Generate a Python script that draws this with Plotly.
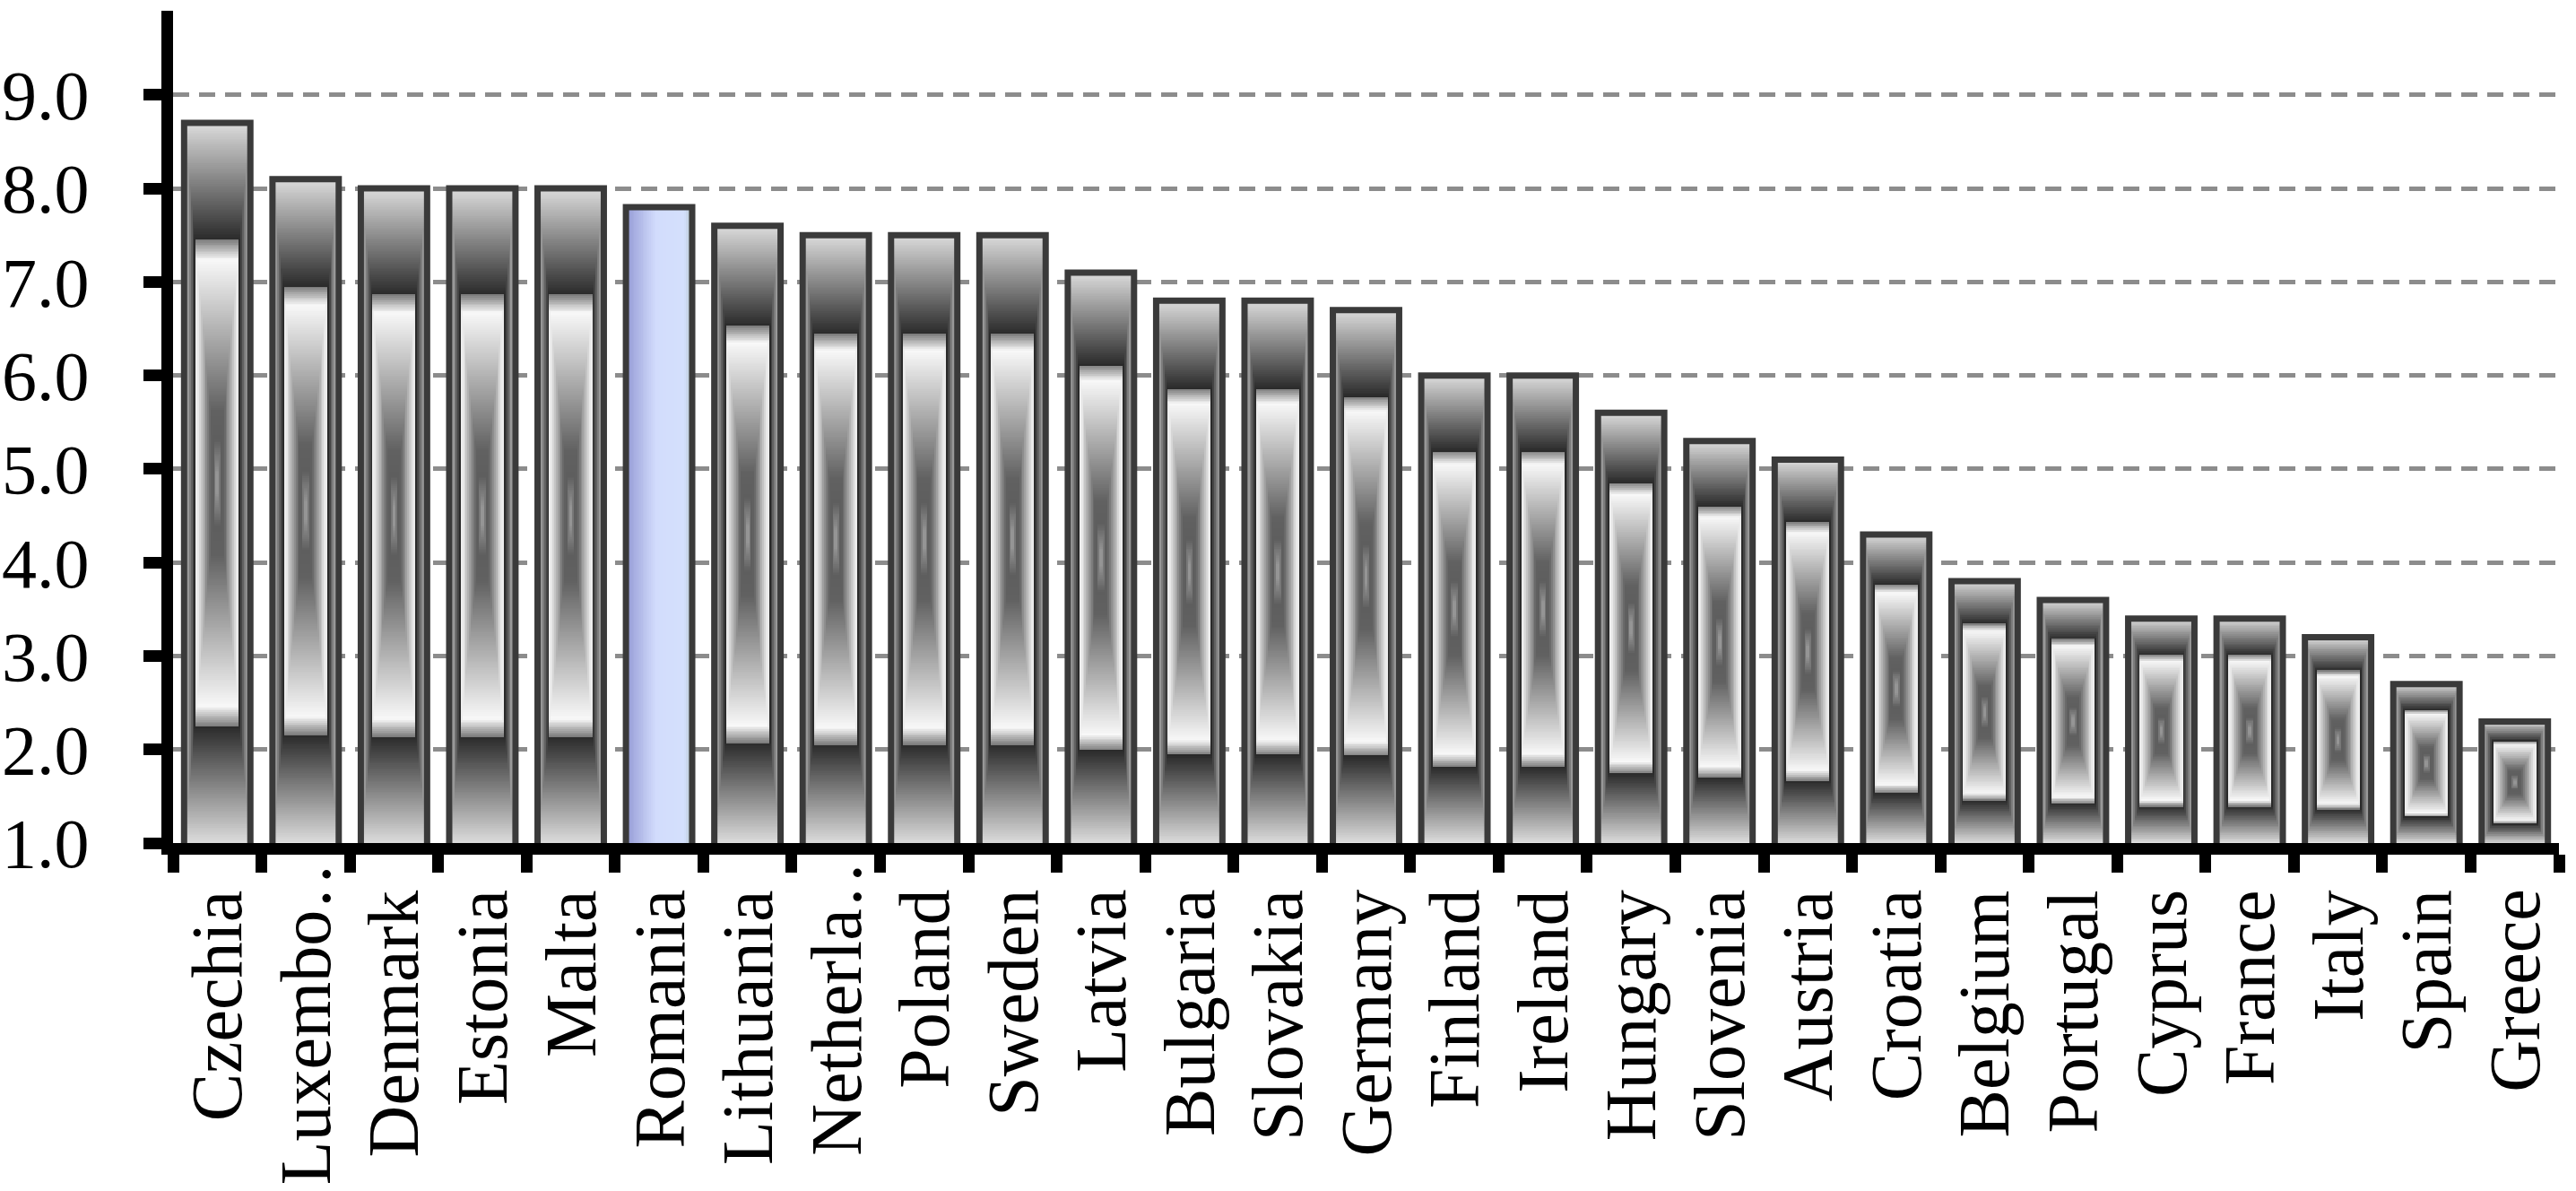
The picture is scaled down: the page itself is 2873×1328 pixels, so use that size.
import numpy as np
import plotly.graph_objects as go

countries = ["Czechia", "Luxembo…", "Denmark", "Estonia", "Malta", "Romania", "Lithuania",
             "Netherla…", "Poland", "Sweden", "Latvia", "Bulgaria", "Slovakia", "Germany",
             "Finland", "Ireland", "Hungary", "Slovenia", "Austria", "Croatia", "Belgium",
             "Portugal", "Cyprus", "France", "Italy", "Spain", "Greece"]
values = [8.7, 8.1, 8.0, 8.0, 8.0, 7.8, 7.6, 7.5, 7.5, 7.5, 7.1, 6.8, 6.8, 6.7,
          6.0, 6.0, 5.6, 5.3, 5.1, 4.3, 3.8, 3.6, 3.4, 3.4, 3.2, 2.7, 2.3]
highlight = "Romania"
y_ticks = [1, 2, 3, 4, 5, 6, 7, 8, 9]
y_min, y_max = 1.0, 9.9

BAR_W = 0.75
FONT = "Liberation Serif"

# rectangular "from centre" gradient: t = 0 centre, 1 edge
grey_scale = [
    [0.0, "#a4a4a4"], [0.12, "#5e5e5e"], [0.2, "#616161"], [0.62, "#f8f8f8"],
    [0.675, "#7c7c7c"], [0.675, "#2a2a2a"], [1.0, "#dcdcdc"],
]
# horizontal linear gradient for highlighted bar
blue_scale = [
    [0.0, "#959bd6"], [0.45, "#d2dcfc"], [0.88, "#d4e0fc"], [1.0, "#aebfbf"],
]

fig = go.Figure()

for i, (name, v) in enumerate(zip(countries, values)):
    nx = 40
    ny = max(24, int(round((v - y_min) * 60)))
    dx = BAR_W / nx
    dy = (v - y_min) / ny
    xs = (np.arange(nx) + 0.5) / nx
    ys = (np.arange(ny) + 0.5) / ny
    if name == highlight:
        z = np.tile(xs, (ny, 1))
        cs = blue_scale
    else:
        X, Y = np.meshgrid(np.abs(xs - 0.5) * 2, np.abs(ys - 0.5) * 2)
        z = np.maximum(X, Y)
        cs = grey_scale
    fig.add_trace(go.Heatmap(
        z=np.round(z, 3).tolist(),
        x0=i - BAR_W / 2 + dx / 2, dx=dx,
        y0=y_min + dy / 2, dy=dy,
        colorscale=cs, zmin=0, zmax=1, showscale=False,
        hoverinfo="skip", zsmooth=False,
    ))

fig.add_trace(go.Bar(
    x=list(range(len(countries))), y=values,
    width=BAR_W,
    marker=dict(color="rgba(0,0,0,0)", line=dict(color="#3a3a3a", width=7)),
    hoverinfo="skip", showlegend=False,
))

# category labels (rotated); truncated labels overflow toward the axis as in the original
for i, name in enumerate(countries):
    truncated = name.endswith("…")
    fig.add_annotation(
        x=i, xref="x", y=0, yref="paper",
        text=name, textangle=-90, showarrow=False,
        xanchor="center", yanchor="top",
        yshift=8 if truncated else -50,
        font=dict(family=FONT, size=80, color="black"),
    )

fig.update_layout(
    width=2873, height=1328,
    margin=dict(l=193, r=19, t=12, b=388, autoexpand=False),
    paper_bgcolor="white", plot_bgcolor="white",
    showlegend=False,
    font=dict(family=FONT, size=78, color="black"),
    xaxis=dict(
        range=[-0.5, len(countries) - 0.5],
        tickmode="array", tickvals=list(range(len(countries))),
        showticklabels=False,
        ticks="", showgrid=False, zeroline=False,
        showline=True, linewidth=13, linecolor="black",
        minor=dict(tickmode="array",
                   tickvals=[k - 0.5 for k in range(len(countries) + 1)],
                   ticks="outside", ticklen=20, tickwidth=13, tickcolor="black",
                   showgrid=False),
        automargin=False,
    ),
    yaxis=dict(
        range=[y_min, y_max],
        tickmode="array", tickvals=y_ticks, ticktext=[f"{t:.1f}" for t in y_ticks],
        ticks="outside", ticklen=20, tickwidth=13, tickcolor="black",
        showline=True, linewidth=13, linecolor="black",
        showgrid=True, gridcolor="#8c8c8c", gridwidth=5, griddash="18px,11px",
        zeroline=False, ticklabelstandoff=45,
        automargin=False,
    ),
)

fig.write_html("out.html", config={"displayModeBar": False},
               post_script="document.body.style.margin='0';document.body.style.overflow='hidden';")
